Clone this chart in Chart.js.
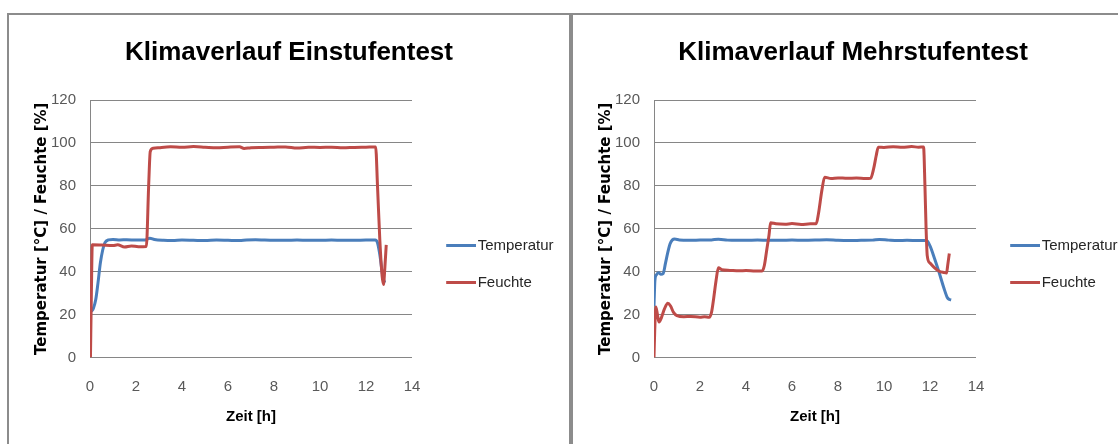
<!DOCTYPE html>
<html lang="de">
<head>
<meta charset="utf-8">
<title>Klimaverlauf</title>
<script src="https://cdn.jsdelivr.net/npm/chart.js@4.4.1/dist/chart.umd.min.js"></script>
<style>
  html, body { margin: 0; padding: 0; background: #fff; }
  body { width: 1118px; height: 444px; overflow: hidden; position: relative; }
  .box { position: absolute; top: 13px; width: 560px; height: 470px; border: 2px solid #8c8c8c; border-bottom: none; }
  #boxEin { left: 7px; }
  #boxMehr { left: 571px; }
  canvas { position: absolute; left: 0; top: 0; }
</style>
</head>
<body>
<div class="box" id="boxEin"><canvas id="chartEin" width="560" height="499"></canvas></div>
<div class="box" id="boxMehr"><canvas id="chartMehr" width="560" height="499"></canvas></div>
<script>
// Achsen
const xTicks = [0, 2, 4, 6, 8, 10, 12, 14];
const yTicks = [0, 20, 40, 60, 80, 100, 120];

// Einstufentest
const einZeitTemp = [0.06, 0.15, 0.25, 0.35, 0.45, 0.55, 0.65, 0.8, 1.0, 1.3, 1.6, 2.0, 2.4, 2.6, 2.8, 3.2, 3.6, 4.0, 4.5, 5.0, 5.5, 6.0, 6.5, 6.8, 7.2, 7.6, 8.0, 8.5, 9.0, 9.5, 10.0, 10.5, 11.0, 11.5, 12.0, 12.4, 12.5, 12.6, 12.7, 12.78, 12.85];
const einTemp     = [21.5, 23, 27, 35, 44, 50, 53.5, 54.8, 55, 54.8, 54.9, 54.7, 54.8, 55.6, 55, 54.6, 54.5, 54.7, 54.6, 54.5, 54.7, 54.6, 54.5, 54.8, 54.9, 54.7, 54.6, 54.6, 54.7, 54.6, 54.6, 54.7, 54.6, 54.6, 54.7, 54.7, 53.5, 48, 40, 35.5, 35.8];
const einZeitFeuchte = [0.02, 0.06, 0.1, 0.5, 1.0, 1.2, 1.5, 1.8, 2.1, 2.45, 2.55, 2.62, 2.75, 3.0, 3.5, 4.0, 4.5, 5.0, 5.5, 6.0, 6.5, 6.7, 7.0, 7.5, 8.0, 8.5, 9.0, 9.5, 10.0, 10.5, 11.0, 11.5, 12.0, 12.42, 12.5, 12.6, 12.7, 12.76, 12.82, 12.88];
const einFeuchte     = [0, 30, 52.5, 52.4, 52.2, 52.5, 51.5, 52, 51.6, 51.7, 80, 96, 97.5, 97.8, 98.2, 98, 98.3, 98, 97.7, 98, 98.2, 97.4, 97.8, 97.9, 98, 98.1, 97.6, 98, 97.9, 98, 97.7, 97.9, 98, 98.1, 80, 55, 38, 34, 42, 52.5];

// Mehrstufentest
const mehrZeitTemp = [0.0, 0.04, 0.1, 0.2, 0.3, 0.4, 0.5, 0.6, 0.7, 0.8, 0.9, 1.1, 1.5, 2.0, 2.5, 2.8, 3.2, 3.6, 4.0, 4.5, 5.0, 5.5, 6.0, 6.5, 7.0, 7.5, 8.0, 8.5, 9.0, 9.5, 9.8, 10.2, 10.6, 11.0, 11.5, 11.85, 12.0, 12.2, 12.4, 12.6, 12.75, 12.85, 12.92];
const mehrTemp     = [24, 36, 38.5, 39.5, 38.8, 39.2, 44, 49, 53, 54.8, 55.2, 54.8, 54.6, 54.7, 54.8, 55.1, 54.7, 54.6, 54.6, 54.7, 54.6, 54.6, 54.7, 54.6, 54.7, 54.9, 54.6, 54.5, 54.6, 54.7, 55, 54.7, 54.5, 54.6, 54.5, 54.5, 52, 46, 39.5, 32.5, 28, 27, 26.8];
const mehrZeitFeuchte = [0.0, 0.03, 0.08, 0.15, 0.22, 0.32, 0.45, 0.6, 0.72, 0.85, 1.0, 1.3, 1.6, 2.0, 2.2, 2.4, 2.5, 2.6, 2.7, 2.8, 2.95, 3.3, 3.7, 4.0, 4.4, 4.7, 4.8, 4.9, 5.0, 5.07, 5.3, 5.7, 6.0, 6.4, 6.8, 7.05, 7.15, 7.3, 7.42, 7.7, 8.0, 8.4, 8.8, 9.2, 9.42, 9.55, 9.66, 9.75, 10.0, 10.4, 10.8, 11.2, 11.5, 11.72, 11.78, 11.83, 11.88, 12.0, 12.2, 12.4, 12.6, 12.72, 12.77, 12.84];
const mehrFeuchte     = [0, 12, 23.5, 20, 16.5, 18.5, 22.5, 25.3, 24, 21, 19.5, 19, 19.1, 18.8, 19, 18.7, 21, 28, 36, 41.8, 40.9, 40.6, 40.4, 40.5, 40.3, 40.3, 43, 50, 57, 62.8, 62.3, 62.1, 62.4, 62, 62.3, 62.3, 67, 78, 84, 83.4, 83.7, 83.5, 83.6, 83.4, 83.5, 88, 94, 98, 97.9, 98.2, 98, 98.3, 98, 98.1, 80, 60, 47.5, 44, 41.8, 40.2, 39.6, 39.4, 43, 48.5];

const BLAU = "#4a7ebb";
const ROT = "#be4b48";
const GRAU = "#868686";
const SCHRIFT = "'Liberation Sans', Arial, sans-serif";

// Plotbereich im Canvas
const PLOT_LINKS = 81, PLOT_RECHTS = 403, PLOT_UNTEN = 342.5;
const RAND = 5.5;

function punkte(zeit, werte) {
  return zeit.map((t, i) => ({ x: t, y: werte[i] }));
}

// kurzer Strich als Legendensymbol
function legendStrich(farbe) {
  const c = document.createElement("canvas");
  c.width = 36;
  c.height = 4;
  const g = c.getContext("2d");
  g.fillStyle = farbe;
  g.fillRect(6, 0, 30, 3);
  return c;
}

function datensaetze(zeitT, temp, zeitF, feuchte) {
  return [
    { label: "Temperatur", data: punkte(zeitT, temp), borderColor: BLAU, borderWidth: 3,
      pointRadius: 0, pointStyle: legendStrich(BLAU), cubicInterpolationMode: "monotone", order: 1 },
    { label: "Feuchte", data: punkte(zeitF, feuchte), borderColor: ROT, borderWidth: 3,
      pointRadius: 0, pointStyle: legendStrich(ROT), cubicInterpolationMode: "monotone", order: 0 }
  ];
}

function optionen(titel) {
  return {
    responsive: false,
    animation: false,
    layout: { padding: { left: RAND, right: RAND } },
    plugins: {
      title: {
        display: true, text: titel, color: "#000",
        font: { family: SCHRIFT, size: 26, weight: "bold" },
        padding: { top: 22.4, bottom: 31.4 }
      },
      legend: {
        position: "right",
        maxWidth: 300,
        labels: {
          usePointStyle: true, pointStyleWidth: 24, padding: 22, color: "#262626",
          font: { family: SCHRIFT, size: 15 },
          sort: (a, b) => a.datasetIndex - b.datasetIndex
        }
      },
      tooltip: { enabled: false }
    },
    scales: {
      x: {
        type: "linear",
        min: xTicks[0], max: xTicks[xTicks.length - 1],
        ticks: { stepSize: xTicks[1] - xTicks[0], padding: 12.5, color: "#595959", font: { family: SCHRIFT, size: 15 } },
        grid: { display: false },
        border: { display: false },
        title: { display: true, text: "Zeit [h]", color: "#000", font: { family: SCHRIFT, size: 15, weight: "bold" }, padding: { bottom: 88 } },
        afterFit: (s) => { s.height = s.chart.height - PLOT_UNTEN; }
      },
      y: {
        min: yTicks[0], max: yTicks[yTicks.length - 1],
        ticks: { stepSize: yTicks[1] - yTicks[0], padding: 14, color: "#595959", font: { family: SCHRIFT, size: 15 } },
        grid: { color: GRAU, drawTicks: false },
        border: { color: GRAU },
        title: { display: true, text: "Temperatur [°C] / Feuchte [%]", color: "#000", font: { family: "'DejaVu Sans', sans-serif", size: 15, weight: "bold" }, padding: { top: 24 - RAND } },
        afterFit: (s) => { s.width = PLOT_LINKS - RAND; }
      },
      // Abstand zwischen Plot und Legende
      y2: {
        position: "right", display: true,
        ticks: { display: false }, grid: { display: false }, border: { display: false },
        afterFit: (s) => { s.width = Math.max(0, s.chart.width - RAND - s.chart.legend.width - PLOT_RECHTS); }
      }
    }
  };
}

new Chart(document.getElementById("chartEin"), {
  type: "line",
  data: { datasets: datensaetze(einZeitTemp, einTemp, einZeitFeuchte, einFeuchte) },
  options: optionen("Klimaverlauf Einstufentest")
});

new Chart(document.getElementById("chartMehr"), {
  type: "line",
  data: { datasets: datensaetze(mehrZeitTemp, mehrTemp, mehrZeitFeuchte, mehrFeuchte) },
  options: optionen("Klimaverlauf Mehrstufentest")
});
</script>
</body>
</html>
